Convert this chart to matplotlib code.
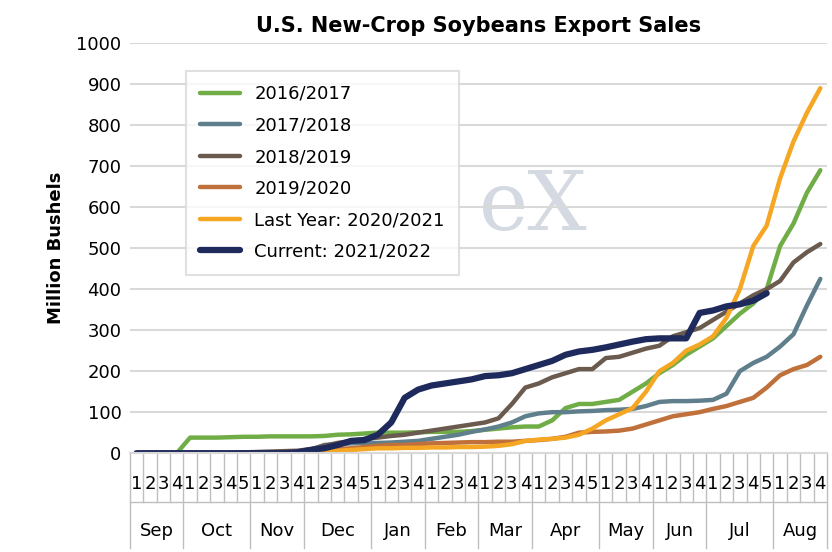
import matplotlib
matplotlib.use("Agg")
import matplotlib.pyplot as plt
import matplotlib.transforms as mtransforms

months = ["Sep","Oct","Nov","Dec","Jan","Feb","Mar","Apr","May","Jun","Jul","Aug"]
weeks_per_month = [4,5,4,5,4,4,4,5,4,4,5,4]

s1617 = [0,0,0,0,38,38,38,39,40,40,41,41,41,41,41,42,45,46,48,50,50,50,51,52,52,52,54,57,60,63,65,65,80,110,120,120,125,130,150,170,195,215,240,260,280,310,340,365,400,505,560,635,690][:52]
s1617 = [0,0,0,0,38,38,38,39,40,40,41,41,41,41,42,45,46,48,50,50,50,51,52,52,52,54,57,60,63,65,65,80,110,120,120,125,130,150,170,195,215,240,260,280,310,340,365,400,505,560,635,690]
s1718 = [0,0,0,0,0,0,0,0,0,0,0,0,2,8,20,22,24,25,25,26,28,30,35,40,45,52,58,65,75,90,97,100,100,102,103,105,106,108,115,125,127,127,128,130,145,200,220,235,260,290,360,425]
s1819 = [0,0,0,0,0,0,0,0,2,3,4,5,6,10,18,25,30,35,38,42,45,50,55,60,65,70,75,85,120,160,170,185,195,205,205,232,235,245,255,262,285,295,305,325,345,365,385,400,420,465,490,510]
s1920 = [0,0,0,0,0,0,0,0,0,0,0,0,2,5,8,10,12,15,18,20,20,22,24,25,26,27,27,28,28,30,32,35,40,50,52,53,55,60,70,80,90,95,100,108,115,125,135,160,190,205,215,235]
s2021 = [0,0,0,0,0,0,0,0,0,0,0,0,0,2,5,6,8,10,12,12,13,13,14,14,15,15,16,18,22,30,33,35,38,45,60,80,95,110,150,200,220,250,265,285,330,400,505,555,670,760,830,890]
s2122 = [0,0,0,0,0,0,0,0,0,0,0,0,2,8,12,20,30,32,45,75,135,155,165,170,175,180,188,190,195,205,215,225,240,248,252,258,265,272,278,280,280,280,342,348,358,363,372,390]

series = [
    ("2016/2017", s1617, "#70AD47", 3.2),
    ("2017/2018", s1718, "#5F7F8C", 3.2),
    ("2018/2019", s1819, "#6B5A4E", 3.2),
    ("2019/2020", s1920, "#C0703A", 3.2),
    ("Last Year: 2020/2021", s2021, "#F5A623", 3.2),
    ("Current: 2021/2022", s2122, "#1F2A5C", 4.5),
]

fig = plt.figure(figsize=(8.32, 5.52), dpi=100)
ax = fig.add_axes([0.156, 0.179, 0.838, 0.743])
for name, vals, col, lw in series:
    ax.plot(range(len(vals)), vals, color=col, lw=lw, label=name, solid_capstyle="round")

ax.set_xlim(-0.5, 51.5)
ax.set_ylim(0, 1000)
ax.set_yticks(range(0, 1001, 100))
ax.tick_params(axis="y", length=0, labelsize=13, pad=6)
ax.yaxis.grid(True, color="#D9D9D9", lw=1.5)
ax.set_axisbelow(True)
for s in ["top", "right", "left"]:
    ax.spines[s].set_visible(False)
ax.spines["bottom"].set_color("#D9D9D9")
ax.spines["bottom"].set_linewidth(1.5)
ax.set_xticks([])
ax.set_ylabel("Million Bushels", fontsize=13, fontweight="bold", labelpad=8)
ax.set_title("U.S. New-Crop Soybeans Export Sales", fontsize=15, fontweight="bold", pad=8)

# watermark
ax.text(0.5, 0.6, "eX", transform=ax.transAxes, fontsize=60, family="serif",
        color="#D5DAE2", ha="left", va="center", zorder=0)

trans = mtransforms.blended_transform_factory(ax.transData, ax.transAxes)
# week labels and separators
i = 0
for m, n in zip(months, weekspm := weeks_per_month):
    start = i
    for w in range(1, n + 1):
        ax.text(i, -0.075, str(w), transform=trans, ha="center", va="center", fontsize=13)
        i += 1
    ax.text((start + i - 1) / 2, -0.19, m, transform=trans, ha="center", va="center", fontsize=13)
# separators
i = 0
for n in weeks_per_month:
    for w in range(n):
        x = i - 0.5
        if w == 0:
            ax.plot([x, x], [0, -0.23], transform=trans, color="#BFBFBF", lw=1, clip_on=False)
        else:
            ax.plot([x, x], [0, -0.12], transform=trans, color="#BFBFBF", lw=1, clip_on=False)
        i += 1
ax.plot([51.5, 51.5], [0, -0.23], transform=trans, color="#BFBFBF", lw=1, clip_on=False)
ax.plot([-0.5, 51.5], [-0.12, -0.12], transform=trans, color="#BFBFBF", lw=1, clip_on=False)

leg = ax.legend(loc="upper left", bbox_to_anchor=(0.067, 0.955), fontsize=13,
                frameon=True, fancybox=False, edgecolor="#D9D9D9", handlelength=2.2,
                labelspacing=0.75, borderpad=0.8)
leg.get_frame().set_linewidth(1.5)

fig.savefig("out.png", dpi=100)
